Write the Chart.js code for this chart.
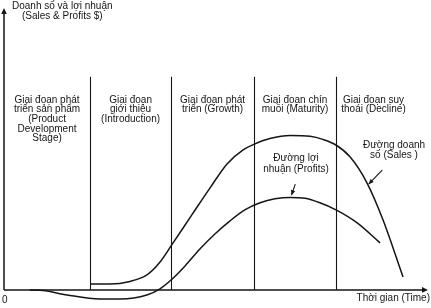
<!DOCTYPE html>
<html>
<head>
<meta charset="utf-8">
<script src="https://cdn.jsdelivr.net/npm/chart.js@4.4.1/dist/chart.umd.min.js"></script>
<style>
  html, body { margin: 0; padding: 0; background: #fff; }
  #wrap { width: 431px; height: 308px; position: relative; }
</style>
</head>
<body>
<div id="wrap"><canvas id="plc"></canvas></div>
<script>
// time axis runs 0..100, money axis 0..100 (profits dip a little below 0)
const stageBounds = [20.3, 39.4, 59.0, 78.3];
const stageNames = [
  ['Giai đoạn phát', 'triển sản phẩm', '(Product', 'Development', 'Stage)'],
  ['Giai đoạn', 'giới thiệu', '(Introduction)'],
  ['Giai đoạn phát', 'triển (Growth)'],
  ['Giai đoạn chín', 'muồi (Maturity)'],
  ['Giai đoạn suy', 'thoái (Decline)']
];
const salesTime = [20.5, 25.0, 29.7, 33.7, 36.8, 39.4, 44.3, 48.6, 52.6, 56.4, 59.2, 62.7, 67.5, 72.2, 75.2, 78.3, 81.6, 85.6, 89.4, 94.1];
const sales     = [2.1, 2.1, 3.0, 5.3, 9.9, 15.6, 26.6, 36.2, 44.7, 49.7, 51.8, 53.7, 54.8, 54.5, 53.4, 51.4, 47.2, 38.0, 24.8, 4.6];
const profitTime = [6.1, 9.2, 14.9, 22.6, 27.4, 33.7, 36.8, 39.4, 42.7, 46.2, 49.8, 53.3, 56.8, 60.4, 63.9, 67.5, 71.0, 74.5, 78.3, 83.3, 88.7];
const profits    = [0, -0.2, -1.8, -3.2, -3.2, -1.8, 0.4, 3.5, 8.5, 14.5, 19.9, 24.5, 28.4, 30.9, 32.3, 32.8, 32.5, 30.9, 28.4, 23.8, 16.7];
const yTitle = ['Doanh số và lợi nhuận', '(Sales & Profits $)'];
const xTitle = 'Thời gian (Time)';
const originLabel = '0';
const salesLabel = ['Đường doanh', 'số (Sales )'];
const profitLabel = ['Đường lợi', 'nhuận (Profits)'];

const FONT = '10px "Liberation Sans", Arial, sans-serif';
const INK = '#151515';

function toPoints(xs, ys) {
  return xs.map((x, i) => ({ x: x, y: ys[i] }));
}

function arrowHead(ctx, x, y, angle, len, half) {
  ctx.save();
  ctx.translate(x, y);
  ctx.rotate(angle);
  ctx.beginPath();
  ctx.moveTo(0, 0);
  ctx.lineTo(-len, -half);
  ctx.lineTo(-len, half);
  ctx.closePath();
  ctx.fill();
  ctx.restore();
}

function pointer(ctx, x1, y1, x2, y2) {
  ctx.beginPath();
  ctx.moveTo(x1, y1);
  ctx.lineTo(x2, y2);
  ctx.stroke();
  arrowHead(ctx, x2, y2, Math.atan2(y2 - y1, x2 - x1), 5, 2.2);
}

function lines(ctx, arr, x, y, step) {
  arr.forEach((t, i) => ctx.fillText(t, x, y + i * step));
}

const lifeCycleDecor = {
  id: 'lifeCycleDecor',
  beforeDatasetsDraw(chart) {
    const ctx = chart.ctx;
    const xs = chart.scales.x, ys = chart.scales.y;
    const x0 = xs.getPixelForValue(0), y0 = ys.getPixelForValue(0);
    const area = chart.chartArea;
    ctx.save();
    ctx.strokeStyle = INK;
    ctx.fillStyle = INK;

    // axes
    ctx.lineWidth = 1.5;
    ctx.beginPath();
    ctx.moveTo(x0, y0);
    ctx.lineTo(x0, area.top + 3);
    ctx.moveTo(x0, y0);
    ctx.lineTo(area.right - 3, y0);
    ctx.stroke();
    arrowHead(ctx, x0, area.top, -Math.PI / 2, 6, 2.8);
    arrowHead(ctx, area.right, y0, 0, 6, 2.8);

    // stage dividers
    ctx.lineWidth = 1.1;
    const top = ys.getPixelForValue(75.6);
    stageBounds.forEach(b => {
      const px = Math.round(xs.getPixelForValue(b)) + 0.5;
      ctx.beginPath();
      ctx.moveTo(px, top);
      ctx.lineTo(px, y0);
      ctx.stroke();
    });

    // stage names
    ctx.font = FONT;
    ctx.textAlign = 'center';
    ctx.textBaseline = 'middle';
    const edges = [0].concat(stageBounds, [96]);
    stageNames.forEach((names, i) => {
      const cx = xs.getPixelForValue((edges[i] + edges[i + 1]) / 2);
      lines(ctx, names, cx, 100, 9.6);
    });

    // axis titles
    ctx.textAlign = 'left';
    ctx.fillText(yTitle[0], 12, 6);
    ctx.fillText(yTitle[1], 22, 16.5);
    ctx.fillText(originLabel, 2, 300);
    ctx.textAlign = 'right';
    ctx.fillText(xTitle, 430, 298);

    // curve labels with pointers
    ctx.textAlign = 'center';
    lines(ctx, salesLabel, 394, 145, 10);
    lines(ctx, profitLabel, 296, 158, 11);
    ctx.lineWidth = 1.1;
    pointer(ctx, xs.getPixelForValue(89.2), ys.getPixelForValue(42.5),
                 xs.getPixelForValue(86.0), ys.getPixelForValue(37.5));
    pointer(ctx, xs.getPixelForValue(68.7), ys.getPixelForValue(37.5),
                 xs.getPixelForValue(67.8), ys.getPixelForValue(33.6));
    ctx.restore();
  }
};

const curveStyle = {
  borderColor: INK,
  backgroundColor: INK,
  borderWidth: 1.5,
  cubicInterpolationMode: 'monotone',
  fill: false,
  clip: false,
  pointRadius: 0
};

new Chart(document.getElementById('plc'), {
  type: 'line',
  data: {
    datasets: [
      Object.assign({ label: 'Sales', data: toPoints(salesTime, sales) }, curveStyle),
      Object.assign({ label: 'Profits', data: toPoints(profitTime, profits) }, curveStyle)
    ]
  },
  options: {
    responsive: true,
    maintainAspectRatio: false,
    animation: false,
    layout: { padding: { left: 4, right: 3, top: 8, bottom: 4 } },
    scales: {
      x: { type: 'linear', min: 0, max: 100, display: false },
      y: { type: 'linear', min: -5, max: 100, display: false }
    },
    plugins: {
      legend: { display: false },
      tooltip: { enabled: false }
    }
  },
  plugins: [lifeCycleDecor]
});
</script>
</body>
</html>
